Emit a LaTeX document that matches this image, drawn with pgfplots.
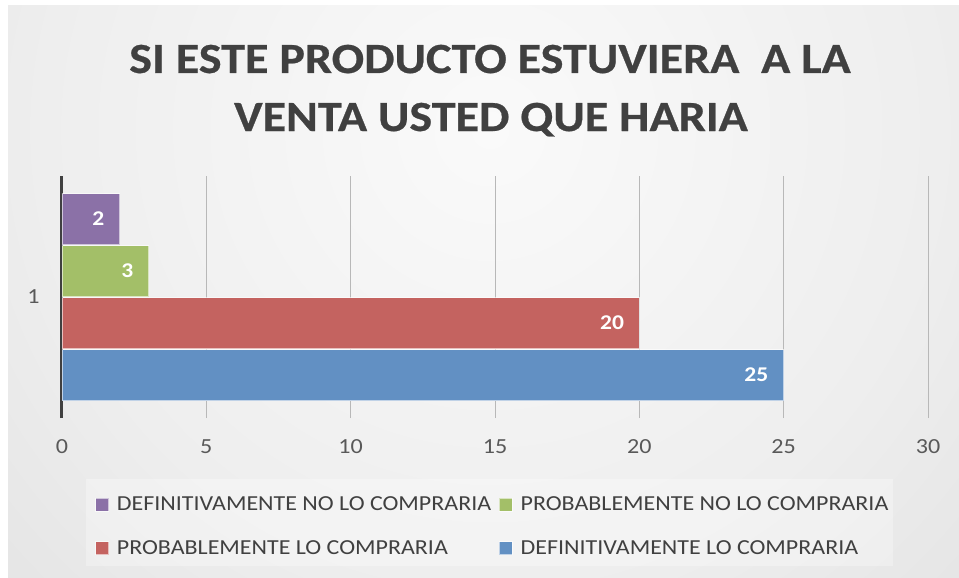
\documentclass[border=0pt]{standalone}
\usepackage{pgfplots}
\pgfplotsset{compat=1.18}
\usepackage{fontspec}
\setmainfont{Carlito}[FakeStretch=1.12]
\newfontfamily\titlefont{Carlito}[FakeStretch=1.12, FakeBold=0.6]
\definecolor{tgray}{HTML}{404040}
\definecolor{lgray}{HTML}{595959}
\definecolor{gridc}{HTML}{B8B8B8}
\definecolor{cpurple}{HTML}{8B71A7}
\definecolor{cgreen}{HTML}{A3BF68}
\definecolor{cred}{HTML}{C46360}
\definecolor{cblue}{HTML}{6290C3}
\definecolor{bgA}{RGB}{250,250,250}
\definecolor{bgB}{RGB}{238,238,238}
\definecolor{bgC}{RGB}{221,221,221}
\definecolor{bgD}{RGB}{205,205,205}
\definecolor{bgE}{RGB}{194,194,194}
\definecolor{bgF}{RGB}{187,187,187}
\pgfdeclareradialshading{bgshade}{\pgfpoint{0bp}{0bp}}{color(0bp)=(bgA); color(14bp)=(bgB); color(27bp)=(bgC); color(33bp)=(bgD); color(40bp)=(bgE); color(50bp)=(bgF)}
\begin{document}
\begin{tikzpicture}[x=1pt,y=1pt]
\fill[white] (0,0) rectangle (959,-578);
\begin{scope}
\clip (8,-6) rectangle (959,-578);
\shade[shading=bgshade] (-310,670) rectangle (1290,-930);
\end{scope}
\fill[white, opacity=0.3] (86,-479) rectangle (893,-566);
\node[anchor=base, inner sep=0pt, font=\fontsize{43}{48}\titlefont\bfseries, text=tgray] at (490,-73) {SI ESTE PRODUCTO ESTUVIERA\ \ A LA};
\node[anchor=base, inner sep=0pt, font=\fontsize{43}{48}\titlefont\bfseries, text=tgray] at (491,-131) {VENTA USTED QUE HARIA};
\begin{axis}[
  at={(62pt,-418pt)}, anchor=south west,
  scale only axis, width=866pt, height=242pt,
  xmin=0, xmax=30, ymin=0, ymax=2,
  xtick={0,5,...,30}, ytick={1},
  xbar, bar width=51pt,
  axis y line*=left, axis x line*=bottom,
  x axis line style={draw=none},
  y axis line style={draw=tgray, line width=3pt},
  major tick length=0pt,
  xmajorgrids,
  major grid style={draw=gridc, line width=0.9pt},
  ticklabel style={font=\fontsize{21.5}{25}\selectfont, text=lgray},
  /pgf/number format/assume math mode=true,
  xticklabel style={yshift=-18pt},
  yticklabel style={xshift=-19pt},
  nodes near coords,
  every node near coord/.append style={anchor=east, xshift=-15pt, inner sep=0pt, font=\fontsize{21}{25}\selectfont\bfseries, text=white},
  legend columns=2,
  legend style={draw=none, fill=none, inner sep=0pt, at={(0.0381,-0.448)}, anchor=west,
    font=\fontsize{21.4}{25}\selectfont, text=tgray,
    nodes={inner xsep=8pt, inner ysep=2pt, text depth=0.15em},
    row sep=24pt,
    /tikz/every even column/.append style={column sep=2pt}},
  legend image code/.code={\draw[#1] (0pt,-6.5pt) rectangle (13pt,6.5pt);},
]
\addplot[fill=cpurple, draw=white, draw opacity=0.6, line width=0.75pt, bar shift=78pt] coordinates {(2,1)};
\addlegendentry{\makebox[372pt][l]{DEFINITIVAMENTE NO LO COMPRARIA}}
\addplot[fill=cgreen, draw=white, draw opacity=0.6, line width=0.75pt, bar shift=26pt] coordinates {(3,1)};
\addlegendentry{\makebox[372pt][l]{PROBABLEMENTE NO LO COMPRARIA}}
\addplot[fill=cred, draw=white, draw opacity=0.6, line width=0.75pt, bar shift=-26pt] coordinates {(20,1)};
\addlegendentry{\makebox[372pt][l]{PROBABLEMENTE LO COMPRARIA}}
\addplot[fill=cblue, draw=white, draw opacity=0.6, line width=0.75pt, bar shift=-78pt] coordinates {(25,1)};
\addlegendentry{\makebox[372pt][l]{DEFINITIVAMENTE LO COMPRARIA}}
\end{axis}
\end{tikzpicture}
\end{document}
